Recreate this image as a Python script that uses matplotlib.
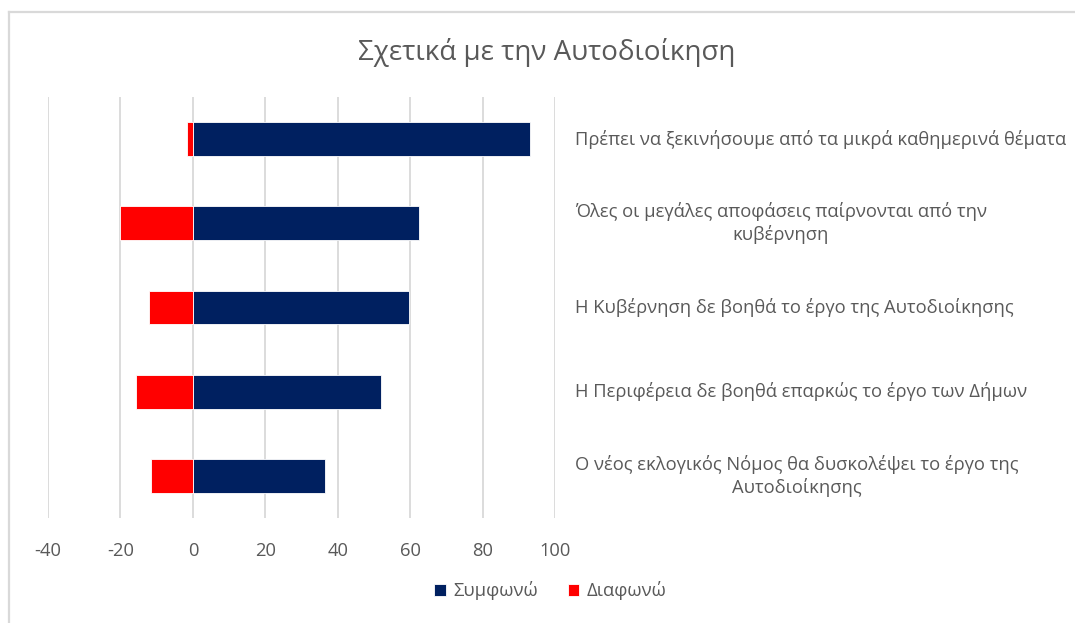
import matplotlib.pyplot as plt
from matplotlib.lines import Line2D
from matplotlib.transforms import blended_transform_factory

plt.rcParams['font.family'] = ['Open Sans', 'DejaVu Sans']

# data (top to bottom)
statements = [
    'Πρέπει να ξεκινήσουμε από τα μικρά καθημερινά θέματα',
    'Όλες οι μεγάλες αποφάσεις παίρνονται από την\nκυβέρνηση',
    'Η Κυβέρνηση δε βοηθά το έργο της Αυτοδιοίκησης',
    'Η Περιφέρεια δε βοηθά επαρκώς το έργο των Δήμων',
    'Ο νέος εκλογικός Νόμος θα δυσκολέψει το έργο της\nΑυτοδιοίκησης',
]
agree = [93.0, 62.4, 59.7, 52.0, 36.6]
disagree = [-1.5, -20.0, -12.0, -15.7, -11.6]
xticks = [-40, -20, 0, 20, 40, 60, 80, 100]

grey = '#595959'
blue = '#002060'
red = '#FF0000'
fs = 13.2

fig = plt.figure(figsize=(10.75, 6.23), dpi=100)
ax = fig.add_axes([0.0447, 0.1685, 0.4716, 0.6758])

ypos = list(range(len(statements)))
ax.barh(ypos, agree, height=0.4, color=blue, edgecolor='white', linewidth=0.6,
        label='Συμφωνώ', zorder=3)
ax.barh(ypos, disagree, height=0.4, color=red, edgecolor='white', linewidth=0.6,
        label='Διαφωνώ', zorder=3)

ax.set_xlim(-40, 100)
ax.set_ylim(len(statements) - 0.5, -0.5)
ax.set_xticks(xticks)
ax.set_xticklabels([str(t) for t in xticks], color=grey, fontsize=fs)
ax.tick_params(axis='x', length=0, pad=17)
ax.set_yticks([])
ax.grid(axis='x', color='#D9D9D9', linewidth=1.3, zorder=0)
for s in ax.spines.values():
    s.set_visible(False)

# category labels sit to the right of the plot area
trans = blended_transform_factory(fig.transFigure, ax.transData)
for y, txt in zip(ypos, statements):
    ax.text(0.5345, y, txt, transform=trans, ha='left', va='center',
            multialignment='center', fontsize=fs, color=grey,
            linespacing=1.25, clip_on=False)

fig.text(0.509, 0.915, 'Σχετικά με την Αυτοδιοίκηση', ha='center', va='center',
         fontsize=20, color=grey)

handles, labels = ax.get_legend_handles_labels()
fig.legend(handles, labels, loc='center', bbox_to_anchor=(0.512, 0.052), ncol=2,
           frameon=False, fontsize=fs, labelcolor=grey, handlelength=0.65,
           handleheight=0.65, handletextpad=0.4, columnspacing=1.6)

# chart frame (only top and left edges show in the crop)
fig.add_artist(Line2D([0.0085, 1.0], [0.981, 0.981], transform=fig.transFigure,
                      color='#D9D9D9', linewidth=1.6))
fig.add_artist(Line2D([0.0085, 0.0085], [0.981, 0.0], transform=fig.transFigure,
                      color='#D9D9D9', linewidth=1.6))

fig.savefig('out.png', dpi=100)
